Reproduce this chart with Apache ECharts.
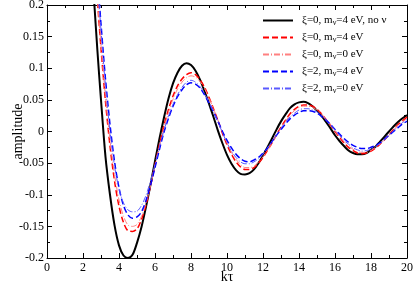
<!DOCTYPE html>
<html>
<head>
<meta charset="utf-8">
<script src="https://cdn.jsdelivr.net/npm/echarts@6/dist/echarts.min.js"></script>
<style>
html,body{margin:0;padding:0;background:#fff;}
#c{width:415px;height:286px;}
</style>
</head>
<body>
<div id="c"></div>
<script>
var xs = [2.2,2.4,2.6,2.8,3.0,3.25,3.5,3.75,4.0,4.25,4.5,4.75,
  5.0,5.25,5.5,5.75,6.0,6.25,6.5,6.75,7.0,7.25,7.5,7.75,8.0,8.25,8.5,8.75,9.0,9.25,9.5,9.75,
  10.0,10.25,10.5,10.75,11.0,11.25,11.5,11.75,12.0,12.25,12.5,12.75,13.0,13.25,13.5,13.75,
  14.0,14.25,14.5,14.75,15.0,15.25,15.5,15.75,16.0,16.25,16.5,16.75,17.0,17.25,17.5,17.75,
  18.0,18.25,18.5,18.75,19.0,19.25,19.5,19.75,20.0];
var yBlack = [0.39,0.305,0.215,0.128,0.05,-0.04,-0.1,-0.148,-0.18,-0.196,-0.2,-0.195,
  -0.176,-0.151,-0.119,-0.084,-0.047,-0.011,0.022,0.052,0.076,0.093,
  0.104,0.108,0.105,0.096,0.082,0.064,0.044,0.023,0.001,-0.019,
  -0.037,-0.051,-0.061,-0.067,-0.068,-0.066,-0.060,-0.050,-0.038,-0.025,
  -0.011,0.003,0.016,0.027,0.037,0.043,0.046,0.047,0.045,0.040,
  0.033,0.025,0.015,0.005,-0.006,-0.015,-0.023,-0.030,-0.034,-0.036,
  -0.036,-0.034,-0.029,-0.024,-0.016,-0.008,0.000,0.008,0.015,0.021,0.026];
var yRed = [0.46,0.374,0.29,0.208,0.131,0.047,-0.023,-0.078,-0.118,-0.144,-0.157,-0.158,
  -0.154,-0.139,-0.116,-0.086,-0.053,-0.020,0.010,0.035,0.056,0.072,
  0.083,0.090,0.093,0.090,0.082,0.070,0.054,0.036,0.017,-0.003,
  -0.021,-0.036,-0.048,-0.056,-0.060,-0.060,-0.057,-0.050,-0.041,-0.030,
  -0.018,-0.005,0.007,0.018,0.028,0.035,0.040,0.042,0.042,0.040,
  0.035,0.028,0.019,0.010,0.000,-0.009,-0.018,-0.025,-0.030,-0.034,
  -0.035,-0.034,-0.031,-0.026,-0.020,-0.013,-0.005,0.003,0.011,0.017,0.023];
var yPink = [0.45,0.369,0.288,0.21,0.136,0.055,-0.014,-0.068,-0.108,-0.134,-0.148,-0.15,
  -0.147,-0.134,-0.113,-0.086,-0.054,-0.023,0.006,0.030,0.051,0.067,
  0.078,0.085,0.088,0.086,0.079,0.068,0.053,0.036,0.018,-0.001,
  -0.018,-0.033,-0.044,-0.052,-0.057,-0.057,-0.055,-0.048,-0.040,-0.030,
  -0.019,-0.006,0.005,0.016,0.026,0.033,0.038,0.040,0.040,0.038,
  0.034,0.028,0.019,0.011,0.001,-0.008,-0.016,-0.023,-0.028,-0.032,
  -0.033,-0.033,-0.030,-0.025,-0.020,-0.013,-0.006,0.002,0.010,0.015,0.021];
var yBlue = [0.503,0.414,0.329,0.246,0.17,0.083,0.011,-0.047,-0.089,-0.117,-0.132,-0.137,
  -0.135,-0.127,-0.109,-0.085,-0.057,-0.028,-0.001,0.021,0.040,0.055,
  0.066,0.074,0.077,0.075,0.069,0.058,0.045,0.031,0.016,0.000,
  -0.014,-0.026,-0.036,-0.043,-0.047,-0.048,-0.045,-0.041,-0.034,-0.026,
  -0.016,-0.006,0.003,0.012,0.020,0.026,0.030,0.033,0.033,0.032,
  0.029,0.024,0.018,0.011,0.003,-0.004,-0.011,-0.017,-0.022,-0.025,
  -0.027,-0.027,-0.025,-0.022,-0.018,-0.012,-0.006,0.000,0.006,0.012,0.016];
var yLightBlue = [0.498,0.411,0.324,0.239,0.16,0.072,0.0,-0.054,-0.091,-0.113,-0.124,-0.127,
  -0.126,-0.117,-0.101,-0.078,-0.052,-0.024,0.002,0.024,0.043,0.058,
  0.070,0.078,0.081,0.078,0.071,0.060,0.047,0.031,0.015,-0.002,
  -0.018,-0.031,-0.041,-0.048,-0.051,-0.051,-0.048,-0.043,-0.036,-0.026,
  -0.016,-0.005,0.005,0.015,0.023,0.029,0.034,0.036,0.036,0.034,
  0.031,0.025,0.019,0.011,0.002,-0.006,-0.014,-0.020,-0.026,-0.029,
  -0.031,-0.030,-0.028,-0.024,-0.019,-0.013,-0.006,0.001,0.008,0.014,0.019];
var seriesNames = ['ξ=0, mν=4 eV, no ν','ξ=0, mν=4 eV','ξ=0, mν=0 eV','ξ=2, mν=4 eV','ξ=2, mν=0 eV'];
var xTicks = {min:0, max:20, interval:2};
var yTicks = {min:-0.2, max:0.2, interval:0.05};

var serif = 'Liberation Serif';
function pairs(ys){ return xs.map(function(x,i){ return [x, ys[i]]; }); }
function mkX(pos, showLabel){
  return {type:'value', position:pos, min:xTicks.min, max:xTicks.max, interval:xTicks.interval,
    name: showLabel ? 'kτ' : '', nameLocation:'middle', nameGap:12, nameMoveOverlap:false,
    nameTextStyle:{fontFamily:serif, fontSize:14, color:'#000', verticalAlign:'top'},
    axisLine:{show:true, onZero:false, lineStyle:{color:'#000', width:1}},
    axisTick:{show:true, inside:true, length:5, lineStyle:{color:'#000'}},
    minorTick:{show:true, splitNumber:2, length:3, lineStyle:{color:'#000'}},
    axisLabel:{show:showLabel, fontFamily:serif, fontSize:12, color:'#000', margin:4},
    splitLine:{show:false}};
}
function mkY(pos, showLabel){
  return {type:'value', position:pos, min:yTicks.min, max:yTicks.max, interval:yTicks.interval,
    name: showLabel ? 'amplitude' : '', nameLocation:'middle', nameGap:22, nameMoveOverlap:false,
    nameTextStyle:{fontFamily:serif, fontSize:14, color:'#000'},
    axisLine:{show:true, onZero:false, lineStyle:{color:'#000', width:1}},
    axisTick:{show:true, inside:true, length:5, lineStyle:{color:'#000'}},
    minorTick:{show:true, splitNumber:2, length:3, lineStyle:{color:'#000'}},
    axisLabel:{show:showLabel, fontFamily:serif, fontSize:12, color:'#000', margin:3},
    splitLine:{show:false}};
}
var styles = [
  {color:'#000000', width:2, type:'solid'},
  {color:'#ff0000', width:1.5, type:[6,3]},
  {color:'#ff8080', width:1, type:[6,2,1,2]},
  {color:'#0000ff', width:1.5, type:[6,3]},
  {color:'#5a5aff', width:1, type:[6,2,1,2]}
];
var data = [yBlack, yRed, yPink, yBlue, yLightBlue];
var series = data.map(function(ys, i){
  return {name:seriesNames[i], type:'line', xAxisIndex:0, yAxisIndex:0, data:pairs(ys),
    smooth:0.3, symbol:'none', showSymbol:false, clip:true,
    lineStyle:{color:styles[i].color, width:styles[i].width, type:styles[i].type},
    itemStyle:{color:styles[i].color}};
});
var chart = echarts.init(document.getElementById('c'), null, {renderer:'canvas'});
chart.setOption({
  animation:false,
  backgroundColor:'#fff',
  grid:{left:47, right:8, top:5, bottom:28, containLabel:false, outerBoundsMode:'none'},
  xAxis:[mkX('bottom', true), mkX('top', false)],
  yAxis:[mkY('left', true), mkY('right', false)],
  legend:{orient:'vertical', left:257, top:9, itemWidth:30, itemHeight:10, itemGap:4,
    data:seriesNames,
    itemStyle:{color:'rgba(0,0,0,0)', borderColor:'rgba(0,0,0,0)', borderWidth:0, opacity:0},
    formatter:function(n){ return n.replace('mν', 'm{s|ν}'); },
    textStyle:{fontFamily:serif, fontSize:11, lineHeight:13, color:'#000', padding:[0,0,0,4],
      rich:{s:{fontFamily:serif, fontSize:8, lineHeight:8, color:'#000', padding:[5,0,0,0]}}}},
  series:series
});
</script>
</body>
</html>
